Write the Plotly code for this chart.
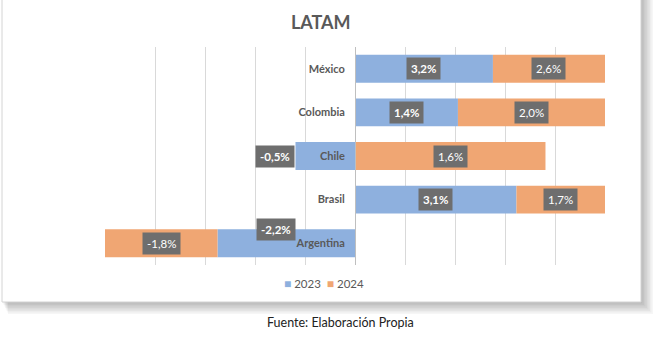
import plotly.graph_objects as go

categories = ["Argentina", "Brasil", "Chile", "Colombia", "México"]
v2023 = [-2.2, 3.1, -0.5, 1.4, 3.2]
v2024 = [-1.8, 1.7, 1.6, 2.0, 2.6]
series_names = ["2023", "2024"]

BLUE = "#8EB0DE"
ORANGE = "#F0A673"
GRAY_TXT = "#595959"
LABEL_BG = "#6E6E6E"
FONT = "Lato, 'Open Sans', sans-serif"
colors = [BLUE, ORANGE]

tot = [abs(a) + abs(b) for a, b in zip(v2023, v2024)]
s2023 = [a / t * 100 for a, t in zip(v2023, tot)]
s2024 = [b / t * 100 for b, t in zip(v2024, tot)]


def fmt(v):
    return f"{v:.1f}%".replace(".", ",")


fig = go.Figure()
for name, vals, col in zip(series_names, [s2023, s2024], colors):
    fig.add_bar(y=categories, x=vals, orientation="h", name=name,
                marker=dict(color=col, line=dict(width=0)), width=0.64, hoverinfo="skip")

annotations = []
for i, cat in enumerate(categories):
    a, b = s2023[i], s2024[i]
    # 2023 label
    if a < 0 and b > 0:
        ax, xanchor, xs, ys = a, "right", 0, 0
    elif a < 0 and b < 0:
        ax, xanchor, xs, ys = a / 2, "center", -10, 14
    else:
        ax, xanchor, xs, ys = a / 2, "center", 0, 0
    annotations.append(dict(x=ax, y=cat, xref="x", yref="y", text=f"<b>{fmt(v2023[i])}</b>",
                            showarrow=False, xanchor=xanchor, xshift=xs, yshift=ys,
                            bgcolor=LABEL_BG, borderpad=4,
                            font=dict(family=FONT, size=11.5, color="white")))
    # 2024 label
    if (a >= 0 and b >= 0) or (a < 0 and b < 0):
        bx = a + b / 2
    else:
        bx = b / 2
    annotations.append(dict(x=bx, y=cat, xref="x", yref="y", text=fmt(v2024[i]),
                            showarrow=False, xanchor="center",
                            bgcolor=LABEL_BG, borderpad=4,
                            font=dict(family=FONT, size=11.5, color="white")))

annotations.append(dict(x=0.432, y=1.0, xref="paper", yref="paper", yshift=25,
                        text="<b>LATAM</b>", showarrow=False, xanchor="center", yanchor="middle",
                        font=dict(family=FONT, size=18, color=GRAY_TXT)))
annotations.append(dict(x=0.47, y=-0.266, xref="paper", yref="paper",
                        text="Fuente: Elaboración Propia", showarrow=False,
                        xanchor="center", yanchor="middle",
                        font=dict(family=FONT, size=12.5, color="#222222")))

# manual compact legend built from the series names/colours
legend_text = "  ".join(
    f"<span style='color:{c};font-size:12px'>■</span> {n}" for n, c in zip(series_names, colors)
)
annotations.append(dict(x=0.438, y=-0.083, xref="paper", yref="paper", text=legend_text,
                        showarrow=False, xanchor="center", yanchor="middle",
                        font=dict(family=FONT, size=11.5, color=GRAY_TXT)))

shapes = []
# shadow of frame
x0, x1 = -0.206, 1.072
y0, y1 = -0.1697, 1.22
for k in range(8):
    dx = (k + 1) * 1.5 / 500
    dy = (k + 1) * 1.5 / 218
    shapes.append(dict(type="rect", xref="paper", yref="paper", layer="below",
                       x0=x0 + dx * 0.5, x1=x1 + dx, y0=y0 - dy, y1=y1,
                       fillcolor="rgba(0,0,0,0.035)", line=dict(width=0)))
shapes.append(dict(type="rect", xref="paper", yref="paper", layer="below",
                   x0=x0, x1=x1, y0=y0, y1=y1, fillcolor="white",
                   line=dict(color="#D4D4D4", width=1)))

fig.update_layout(
    width=662, height=342,
    margin=dict(l=105, r=57, t=47, b=77),
    paper_bgcolor="white", plot_bgcolor="rgba(0,0,0,0)",
    barmode="relative", bargap=0.36,
    font=dict(family=FONT, color=GRAY_TXT),
    showlegend=False,
    xaxis=dict(range=[-100, 100], dtick=20, showgrid=True, gridcolor="#D9D9D9", gridwidth=1,
               showticklabels=False, zeroline=False, fixedrange=True),
    yaxis=dict(anchor="free", position=0.5, showline=True, linecolor="#BFBFBF", linewidth=1,
               showgrid=False, zeroline=False, ticks="", ticklabelstandoff=8,
               tickfont=dict(family=FONT, size=11, color=GRAY_TXT, weight="bold"),
               range=[-0.5, 4.5], fixedrange=True),
    annotations=annotations,
    shapes=shapes,
)

fig.write_html("out.html")
